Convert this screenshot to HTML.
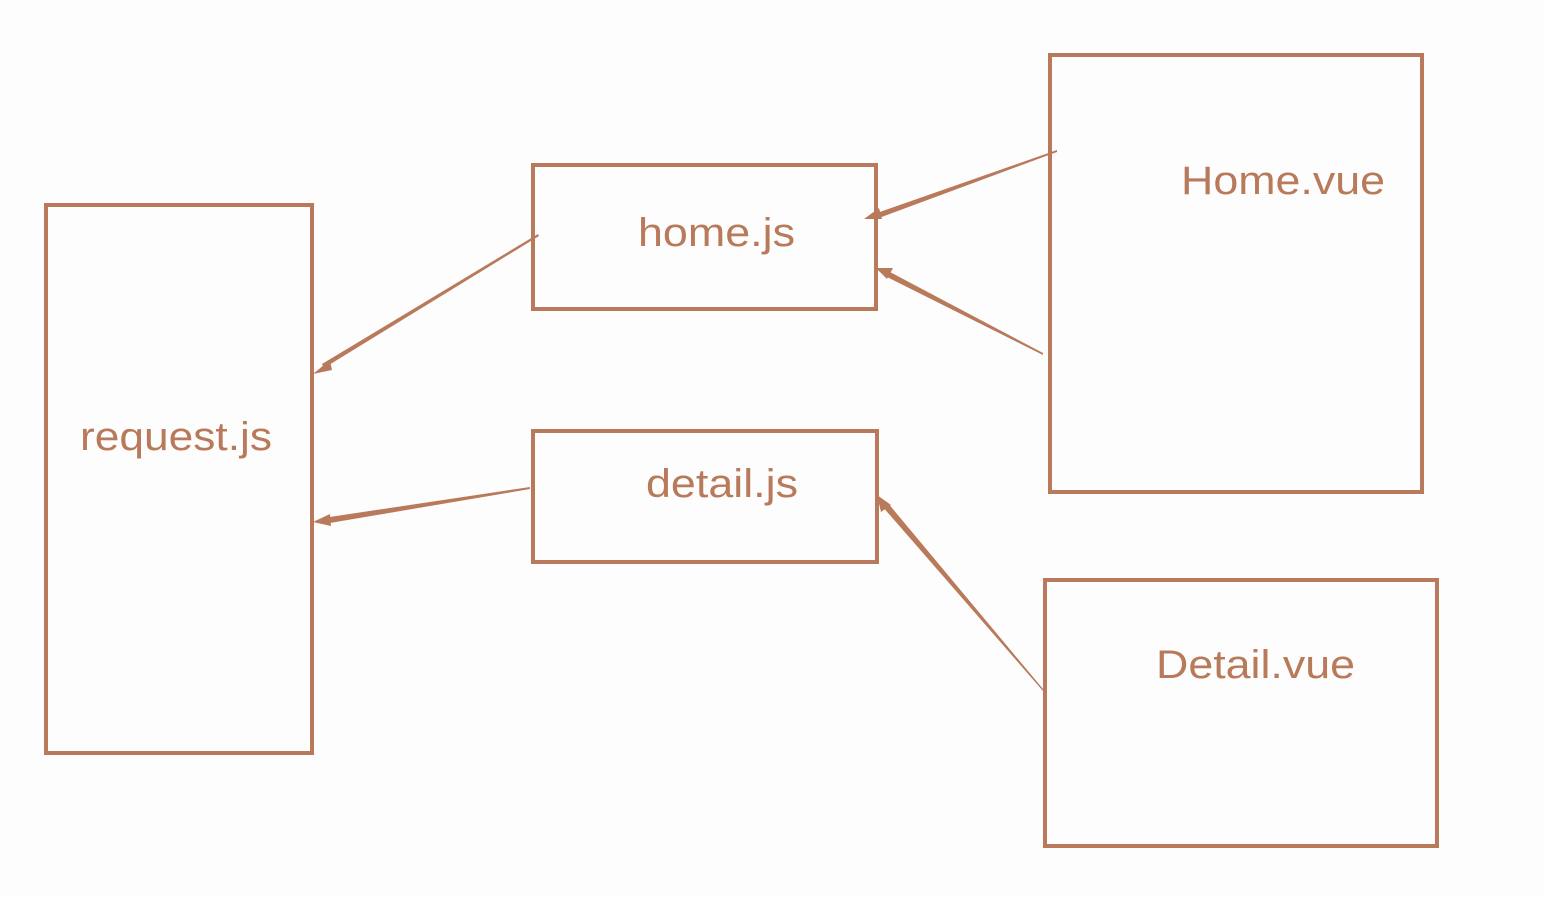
<!DOCTYPE html>
<html><head><meta charset="utf-8"><style>
html,body{margin:0;padding:0;background:#fdfdfd;}
svg{display:block}
text{font-family:"Liberation Sans",sans-serif;font-size:40px;fill:#b87a5a}
</style></head><body>
<svg width="1544" height="897" viewBox="0 0 1544 897" xmlns="http://www.w3.org/2000/svg">
<g fill="none" stroke="#b87a5a" stroke-width="4">
<rect x="46" y="205" width="266" height="548"/>
<rect x="533" y="165" width="343" height="144"/>
<rect x="533" y="431" width="344" height="131"/>
<rect x="1050" y="55" width="372" height="437"/>
<rect x="1045" y="580" width="392" height="266"/>
</g>
<g fill="#b87a5a">
<!-- tapered arrows: thin start, thick end -->
<polygon points="538,234 539,236 324,368 322,364"/>
<polygon points="313,374 330,360 332,370"/>
<polygon points="530,487 530,489 324,524 323,518"/>
<polygon points="313,522 330,514 331,526"/>
<polygon points="1057,150 1057,152 876,219 874,214"/>
<polygon points="864,219 879,208 882,219"/>
<polygon points="1043,353 1043,355 885,276 888,271"/>
<polygon points="876,268 893,268 887,279"/>
<polygon points="1043,689 1043,691 882,506 887,502"/>
<polygon points="877,495 891,505 881,512"/>
</g>
<text x="80" y="450" textLength="192" lengthAdjust="spacingAndGlyphs">request.js</text>
<text x="638" y="246" textLength="157" lengthAdjust="spacingAndGlyphs">home.js</text>
<text x="646" y="497" textLength="152" lengthAdjust="spacingAndGlyphs">detail.js</text>
<text x="1181" y="194" textLength="204" lengthAdjust="spacingAndGlyphs">Home.vue</text>
<text x="1156" y="678" textLength="199" lengthAdjust="spacingAndGlyphs">Detail.vue</text>
</svg>
</body></html>
